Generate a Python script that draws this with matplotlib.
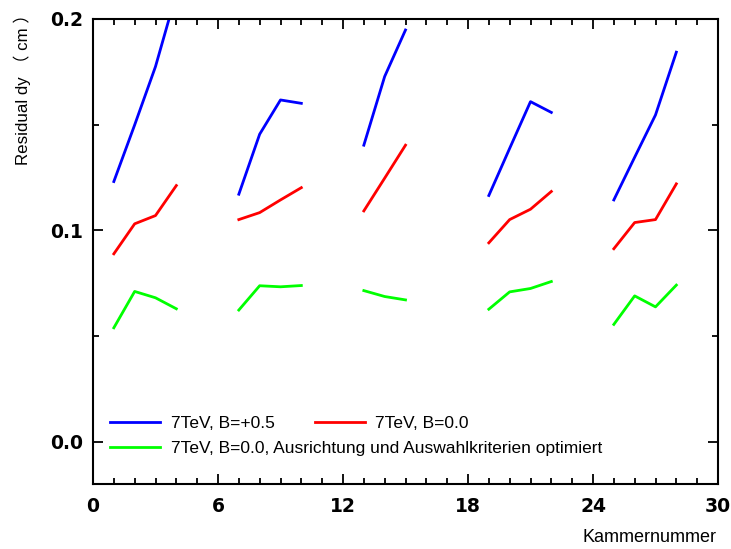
import numpy as np
import matplotlib
matplotlib.use("Agg")
import matplotlib.pyplot as plt
from matplotlib.ticker import MultipleLocator, FormatStrFormatter

plt.rcParams['font.family'] = ['Liberation Sans', 'Noto Sans CJK SC', 'DejaVu Sans']

# Chamber numbers; chambers without data are NaN so the lines break there
chambers = np.arange(1, 29)
nan = np.nan

dy_b05 = [0.1231, 0.1499, 0.1775, 0.2121, nan, nan,
          0.1171, 0.1455, 0.1617, 0.1601, nan, nan,
          0.1403, 0.1728, 0.1948, nan, nan, nan,
          0.1165, 0.1388, 0.1609, 0.1558, nan, nan,
          0.1144, 0.1346, 0.1546, 0.1843]

dy_b00 = [0.0889, 0.1031, 0.1070, 0.1212, nan, nan,
          0.1051, 0.1084, 0.1144, 0.1202, nan, nan,
          0.1092, 0.1247, 0.1403, nan, nan, nan,
          0.0941, 0.1051, 0.1100, 0.1184, nan, nan,
          0.0913, 0.1037, 0.1051, 0.1220]

dy_opt = [0.0539, 0.0711, 0.0681, 0.0629, nan, nan,
          0.0623, 0.0738, 0.0733, 0.0739, nan, nan,
          0.0715, 0.0687, 0.0671, nan, nan, nan,
          0.0627, 0.0709, 0.0725, 0.0758, nan, nan,
          0.0555, 0.0690, 0.0638, 0.0741]

labels = ["7TeV, B=+0.5", "7TeV, B=0.0",
          "7TeV, B=0.0, Ausrichtung und Auswahlkriterien optimiert"]

fig = plt.figure(figsize=(7.31, 5.49), dpi=100)
ax = fig.add_axes([93/731, 1-484/549, 625/731, 465/549])

lw = 2.0
l1, = ax.plot(chambers, dy_b05, color='#0000FF', lw=lw)
l2, = ax.plot(chambers, dy_b00, color='#FF0000', lw=lw)
l3, = ax.plot(chambers, dy_opt, color='#00FF00', lw=lw)

ax.set_xlim(0, 30)
ax.set_ylim(-0.02, 0.2)
ax.xaxis.set_major_locator(MultipleLocator(6))
ax.xaxis.set_minor_locator(MultipleLocator(1))
ax.yaxis.set_major_locator(MultipleLocator(0.1))
ax.yaxis.set_minor_locator(MultipleLocator(0.05))
ax.yaxis.set_major_formatter(FormatStrFormatter('%.1f'))

for s in ax.spines.values():
    s.set_linewidth(1.5)
ax.tick_params(which='both', direction='in', top=True, right=True, width=1.3)
ax.tick_params(which='major', length=7.5)
ax.tick_params(which='minor', length=4.3)
ax.tick_params(axis='x', which='major', pad=9)
ax.tick_params(axis='y', which='major', pad=7)
for t in ax.get_xticklabels() + ax.get_yticklabels():
    t.set_fontfamily('DejaVu Sans')
    t.set_fontweight('bold')
    t.set_fontsize(13.5)

leg_kw = dict(frameon=False, fontsize=12.5, handlelength=2.9, handletextpad=0.6,
              borderpad=0, borderaxespad=0, loc='center left')
leg1 = ax.legend([l1, l2], labels[:2], ncol=2, columnspacing=2.3,
                 bbox_to_anchor=(0.0272, 0.1300), **leg_kw)
ax.add_artist(leg1)
ax.legend([l3], labels[2:], bbox_to_anchor=(0.0272, 0.0760), **leg_kw)

fig.text(22/731, 1-165/549, "Residual dy （ cm ）", rotation=90, ha='center', va='bottom',
         fontsize=12.2)
fig.text(717/731, 1-537/549, "Kammernummer", ha='right', va='center', fontsize=13)

fig.savefig("out.png", dpi=100)
